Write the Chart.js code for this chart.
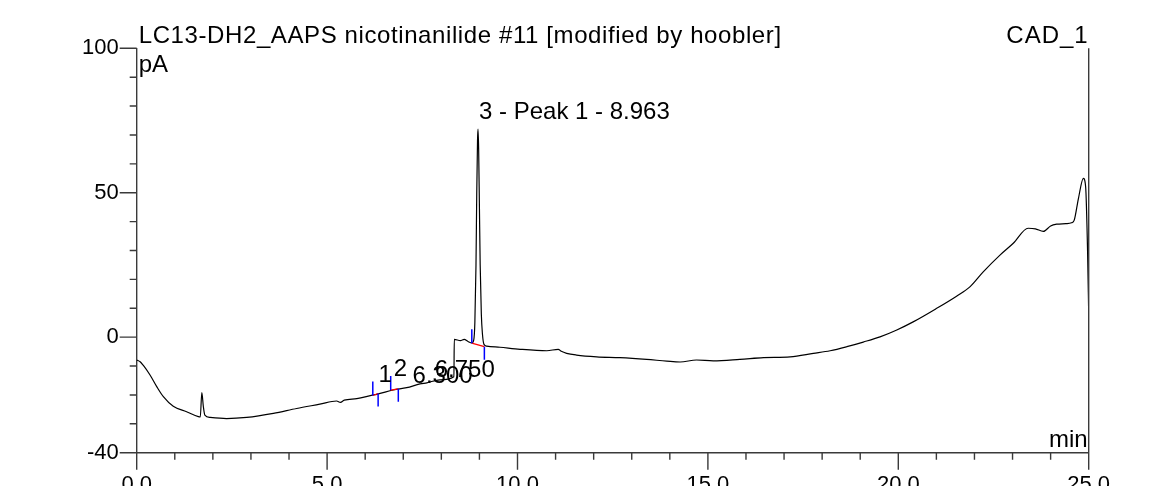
<!DOCTYPE html>
<html>
<head>
<meta charset="utf-8">
<script src="https://cdn.jsdelivr.net/npm/chart.js@4.4.1/dist/chart.umd.min.js"></script>
<style>
  html, body { margin: 0; padding: 0; background: #fff; overflow: hidden; }
  canvas { display: block; }
</style>
</head>
<body>
<canvas id="chroma" width="1155" height="486"></canvas>
<script>
// retention time (min) and detector signal (pA)
const times = [
  0.00, 0.09, 0.17, 0.35, 0.53, 0.70, 0.96, 1.31, 1.62, 1.67, 1.71, 1.75, 1.79, 1.93,
  2.36, 2.89, 3.59, 4.20, 4.81, 5.25, 5.35, 5.45, 5.78, 6.21, 6.30, 6.74, 7.09, 7.44,
  7.62, 7.96, 8.33, 8.34, 8.50, 8.60, 8.70, 8.80, 8.85, 8.88, 8.91, 8.93, 8.95, 8.963,
  8.98, 9.00, 9.02, 9.05, 9.08, 9.12, 9.19, 9.54, 10.07, 10.77, 11.07, 11.15, 11.29,
  11.55, 12.08, 12.69, 13.39, 13.92, 14.27, 14.70, 15.14, 15.84, 16.46, 17.16, 17.77,
  18.21, 18.65, 19.08, 19.52, 19.96, 20.39, 21.01, 21.53, 21.88, 22.23, 22.67, 23.02,
  23.41, 23.60, 23.81, 24.00, 24.16, 24.40, 24.55, 24.62, 24.73, 24.86, 24.92, 24.97, 25.00
];
const signal = [
  -7.9, -8.5, -9.7, -13.1, -17.2, -20.6, -23.9, -25.8, -27.5, -27.6, -19.2, -24.0, -27.0, -27.8,
  -28.2, -27.8, -26.4, -24.7, -23.2, -22.1, -22.6, -21.8, -21.3, -20.0, -19.8, -18.3, -17.5, -16.2,
  -15.8, -14.8, -13.7, -0.8, -1.2, -0.8, -1.5, -2.0, -1.0, 5.0, 25.0, 50.0, 68.0, 72.0,
  65.0, 45.0, 25.0, 8.0, 1.0, -2.5, -3.1, -3.5, -4.2, -4.7, -4.2, -4.9, -5.6,
  -6.2, -6.8, -7.1, -7.7, -8.3, -8.6, -7.9, -8.2, -7.7, -7.1, -6.8, -5.6,
  -4.7, -3.3, -1.7, 0.1, 2.5, 5.3, 10.0, 14.2, 17.4, 22.6, 28.4, 32.5,
  37.7, 37.5, 36.6, 38.5, 39.1, 39.3, 39.6, 40.5, 48.0, 55.0, 52.0, 30.0, 8.0
];

// integrated peaks: [start time, start baseline, end time, end baseline]
const peakBounds = [
  [6.20, -20.2, 6.34, -19.5],
  [6.67, -18.3, 6.87, -17.9],
  [8.80, -2.1, 9.13, -3.3]
];
const peakLabels = [
  { t: 6.300, v: -20.0, text: '1' },
  { t: 6.750, v: -18.3, text: '2' },
  { t: 8.963, v: 72.0, text: '3 - Peak 1 - 8.963' }
];
const rtLabels = [
  { t: 6.300, v: -20.0, text: '6.300' },
  { t: 6.750, v: -18.3, text: '6.750' }
];

const xTickValues = [0, 5, 10, 15, 20, 25];
const yTickValues = [-40, 0, 50, 100];

const titleText = 'LC13-DH2_AAPS nicotinanilide #11 [modified by hoobler]';
const channelText = 'CAD_1';

const FAMILY = '"Liberation Sans", Arial, sans-serif';
const FONT = '24px ' + FAMILY;
const AXIS = '#3a3a3a';

const decorations = {
  id: 'decorations',
  afterDraw(chart) {
    const ctx = chart.ctx;
    const x = chart.scales.x, y = chart.scales.y;
    const a = chart.chartArea;
    ctx.save();

    // tick marks
    ctx.strokeStyle = AXIS;
    ctx.lineWidth = 1.4;
    ctx.beginPath();
    for (let t = 0; t <= 25; t++) {
      const px = x.getPixelForValue(t);
      const len = t % 5 === 0 ? 17 : 7;
      ctx.moveTo(px, a.bottom);
      ctx.lineTo(px, a.bottom + len);
    }
    for (let v = -40; v <= 100; v += 10) {
      const py = y.getPixelForValue(v);
      const len = yTickValues.includes(v) ? 17 : 7;
      ctx.moveTo(a.left, py);
      ctx.lineTo(a.left - len, py);
    }
    // right frame line
    ctx.moveTo(a.right, a.top);
    ctx.lineTo(a.right, a.bottom);
    ctx.stroke();

    // integration baselines and delimiters
    peakBounds.forEach(([t0, v0, t1, v1]) => {
      const x0 = x.getPixelForValue(t0), y0 = y.getPixelForValue(v0);
      const x1 = x.getPixelForValue(t1), y1 = y.getPixelForValue(v1);
      ctx.strokeStyle = '#ff0000';
      ctx.lineWidth = 1.3;
      ctx.beginPath();
      ctx.moveTo(x0, y0);
      ctx.lineTo(x1, y1);
      ctx.stroke();
      ctx.strokeStyle = '#0000ff';
      ctx.lineWidth = 1.5;
      ctx.beginPath();
      ctx.moveTo(x0, y0);
      ctx.lineTo(x0, y0 - 14);
      ctx.moveTo(x1, y1);
      ctx.lineTo(x1, y1 + 13);
      ctx.stroke();
    });

    // texts
    ctx.fillStyle = '#000';
    ctx.font = FONT;
    ctx.textBaseline = 'alphabetic';
    ctx.textAlign = 'left';
    ctx.letterSpacing = '0.6px';
    ctx.fillText(titleText, a.left + 2, 43);
    ctx.letterSpacing = '0px';
    ctx.fillText('pA', a.left + 2, 72);
    ctx.textAlign = 'right';
    ctx.letterSpacing = '1px';
    ctx.fillText(channelText, a.right, 43);
    ctx.letterSpacing = '0px';
    ctx.fillText('min', a.right - 1, a.bottom - 6);

    ctx.textAlign = 'left';
    const p3 = peakLabels[2];
    ctx.fillText(p3.text, x.getPixelForValue(p3.t) + 1, y.getPixelForValue(p3.v) - 10);
    ctx.fillText(peakLabels[0].text, x.getPixelForValue(peakLabels[0].t) + 2, 382);
    ctx.fillText(peakLabels[1].text, x.getPixelForValue(peakLabels[1].t), 376);
    ctx.fillText(rtLabels[0].text, x.getPixelForValue(rtLabels[0].t) + 36, 383);
    ctx.fillText(rtLabels[1].text, x.getPixelForValue(rtLabels[1].t) + 41, 377);

    ctx.restore();
  }
};

new Chart(document.getElementById('chroma'), {
  type: 'line',
  data: {
    labels: times,
    datasets: [{
      data: times.map((t, i) => ({ x: t, y: signal[i] })),
      borderColor: '#000',
      borderWidth: 1.2,
      pointRadius: 0,
      cubicInterpolationMode: 'monotone',
      fill: false
    }]
  },
  options: {
    responsive: false,
    animation: false,
    events: [],
    layout: { padding: { top: 48.3, right: 66.3, left: 0, bottom: 0 } },
    plugins: { legend: { display: false }, tooltip: { enabled: false } },
    scales: {
      x: {
        type: 'linear',
        min: 0,
        max: 25,
        afterBuildTicks: s => { s.ticks = xTickValues.map(v => ({ value: v })); },
        afterFit: s => { s.height = 33.3; },
        grid: { display: false, drawTicks: false },
        border: { display: true, color: AXIS, width: 1.4 },
        ticks: {
          autoSkip: false,
          maxRotation: 0,
          padding: 19,
          color: '#000',
          font: { family: FAMILY, size: 22 },
          callback: v => Number(v).toFixed(1)
        }
      },
      y: {
        min: -40,
        max: 100,
        afterBuildTicks: s => { s.ticks = yTickValues.map(v => ({ value: v })); },
        afterFit: s => { s.width = 136.7; },
        grid: { display: false, drawTicks: false },
        border: { display: true, color: AXIS, width: 1.4 },
        ticks: {
          padding: 18,
          color: '#000',
          font: { family: FAMILY, size: 22 }
        }
      }
    }
  },
  plugins: [decorations]
});
</script>
</body>
</html>
